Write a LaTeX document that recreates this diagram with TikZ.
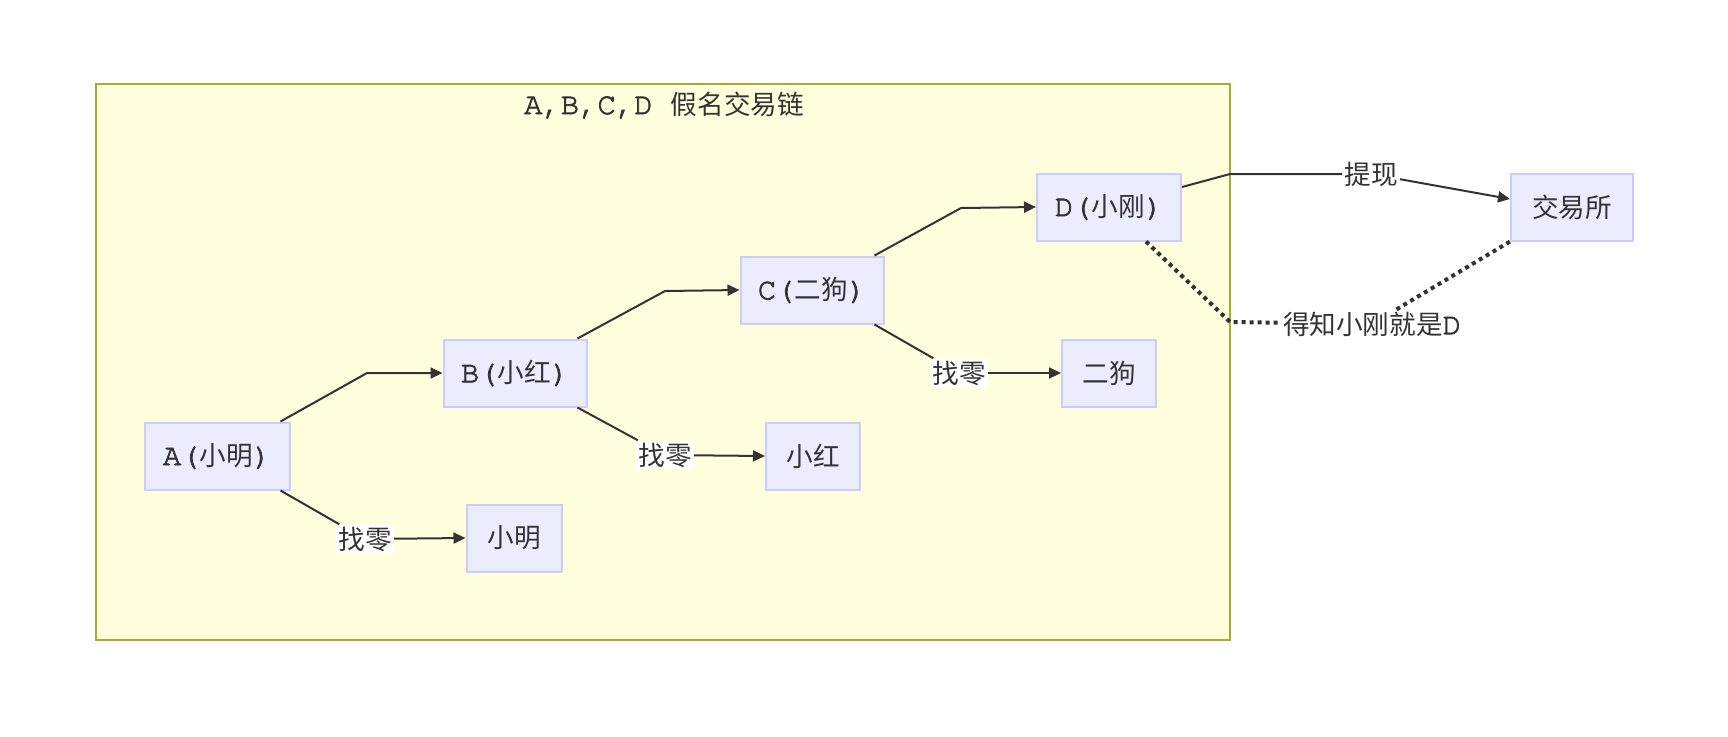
\documentclass[tikz,border=0pt]{standalone}
\usepackage{fontspec}
\setmainfont{Noto Sans CJK SC}
\setmonofont{TeX Gyre Cursor}[Scale=1.15,FakeBold=2.5]
\usetikzlibrary{arrows.meta}
\definecolor{clfill}{HTML}{FFFFDE}
\definecolor{clline}{HTML}{AAAA33}
\definecolor{nfill}{HTML}{ECECFF}
\definecolor{nline}{HTML}{CCCCFF}
\definecolor{eline}{HTML}{333333}
\newcommand{\mt}[1]{{\ttfamily #1}}
\begin{document}
\begin{tikzpicture}[x=0.5pt,y=-0.5pt,
  font=\fontsize{13.3}{16}\selectfont, text=eline,
  box/.style={draw=nline, fill=nfill, line width=1pt, minimum height=33.5pt, inner sep=0pt},
  lbl/.style={fill=white, inner sep=1pt},
  edge/.style={draw=eline, line width=1pt},
  arr/.style={edge, -{Triangle[length=6pt,width=5.5pt]}},
  dotline/.style={draw=eline, line width=2pt, dash pattern=on 2pt off 2pt},
  cluster/.style={draw=clline, fill=clfill, line width=1pt}]
\useasboundingbox (0,0) rectangle (1728,736);
\path[cluster] (96,84) rectangle (1230,640);
\node (title) at (664,105) {\mt{A,B,C,D }假名交易链};

\node[box, minimum width=72.5pt] (A) at (217,456) {\mt{A(}小明\mt{)}};
\node[box, minimum width=47.5pt] (m1) at (514,538) {小明};
\node[box, minimum width=71.5pt] (B) at (515,373) {\mt{B(}小红\mt{)}};
\node[box, minimum width=47pt] (m2) at (813,456) {小红};
\node[box, minimum width=71.5pt] (C) at (812,290) {\mt{C(}二狗\mt{)}};
\node[box, minimum width=47pt] (m3) at (1109,373) {二狗};
\node[box, minimum width=72pt] (D) at (1109,207) {\mt{D(}小刚\mt{)}};
\node[box, minimum width=61pt] (X) at (1572,207) {交易所};

\node[lbl] (l1) at (365,539) {找零};
\node[lbl] (l2) at (665,455) {找零};
\node[lbl] (l3) at (959,373) {找零};
\node[lbl] (l4) at (1371,174) {提现};
\node[lbl] (l5) at (1372,324) {得知小刚就是\mt{D}};

\coordinate (bAB) at (367,373);
\coordinate (bBC) at (665,291);
\coordinate (bCD) at (961,208);
\coordinate (bDX) at (1230,174);
\coordinate (bDL) at (1230,322);

\draw[arr] ([xshift=-5pt]A.north east) -- (bAB) -- (B.west);
\draw[arr] ([xshift=-5pt]B.north east) -- (bBC) -- (C.west);
\draw[arr] ([xshift=-5pt]C.north east) -- (bCD) -- (D.west);

\draw[edge] ([xshift=-5pt]A.south east) -- (l1);
\draw[arr] (l1) -- (m1.west);
\draw[edge] ([xshift=-5pt]B.south east) -- (l2);
\draw[arr] (l2) -- (m2.west);
\draw[edge] ([xshift=-5pt]C.south east) -- (l3);
\draw[arr] (l3) -- (m3.west);

\draw[edge] ([yshift=10pt]D.east) -- (bDX) -- (l4);
\draw[arr] (l4) -- ([yshift=4pt]X.west);

\draw[dotline] ([xshift=18.5pt]D.south) -- (bDL) -- (l5);
\draw[dotline] (l5) -- (X.south west);
\end{tikzpicture}
\end{document}
